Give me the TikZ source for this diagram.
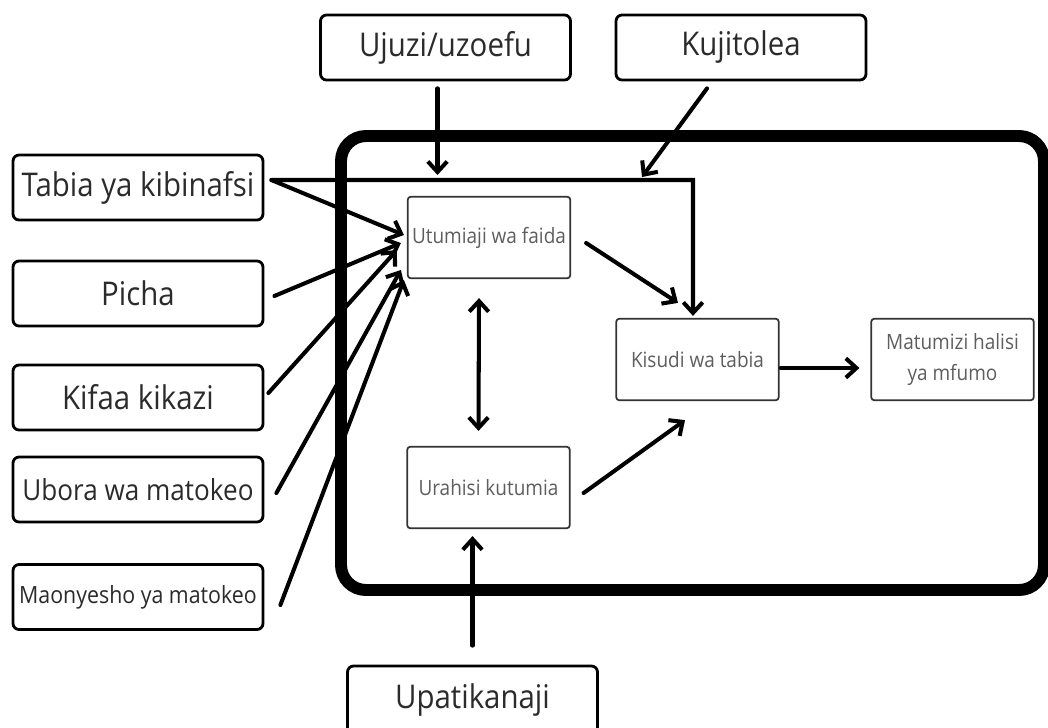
\documentclass[tikz,border=0pt]{standalone}
\usepackage{fontspec}
\setmainfont{Open Sans}[FakeStretch=0.9]
\usetikzlibrary{arrows.meta}
\definecolor{labeltext}{HTML}{2B2B2B}
\definecolor{innertext}{HTML}{5E5E5E}
\begin{document}
\begin{tikzpicture}[x=0.02cm, y=-0.02cm,
		>={Straight Barb[length=6pt, width=11pt, line width=2.3pt]},
		outerbox/.style={draw, line width=1.6pt, rounded corners=0.12cm, minimum width=5cm, minimum height=1.3cm, text=labeltext, font=\fontsize{18.6}{22}\selectfont, inner sep=0pt},
		innerbox/.style={draw=black!80, line width=1pt, rounded corners=0.06cm, minimum width=3.25cm, minimum height=1.63cm, text=innertext, font=\fontsize{12}{18}\selectfont, align=center, inner sep=0pt},
		arr/.style={line width=2.3pt, line cap=round, ->}]
		\clip (0,0) rectangle (1048,727);
		\fill[white] (0,0) rectangle (1048,727);

		% big frame
		\draw[line width=6.8pt, rounded corners=0.5cm] (341,136) rectangle (1044,590);

		% boxes on the left and on top
		\node[outerbox] (tabia) at (138,187.5) {Tabia ya kibinafsi};
		\node[outerbox] (picha) at (138,293.5) {Picha};
		\node[outerbox] (kifaa) at (138,397.5) {Kifaa kikazi};
		\node[outerbox, font=\fontsize{16.5}{20}\selectfont] (ubora) at (138,489.5) {Ubora wa matokeo};
		\node[outerbox, font=\fontsize{13.5}{16}\selectfont] (maonyesho) at (138,597) {Maonyesho ya matokeo};
		\node[outerbox] (ujuzi) at (445.5,47.5) {Ujuzi/uzoefu};
		\node[outerbox] (kujitolea) at (741,47.5) {Kujitolea};
		\node[outerbox, minimum height=1.36cm] (upatikanaji) at (472.5,700) {Upatikanaji};

		% boxes inside the frame
		\node[innerbox] (utumiaji) at (489,237.5) {Utumiaji wa faida};
		\node[innerbox] (urahisi) at (488.5,487.5) {Urahisi kutumia};
		\node[innerbox] (kisudi) at (697.5,359.5) {Kisudi wa tabia};
		\node[innerbox] (matumizi) at (952.5,359.5) {Matumizi halisi\\ya mfumo};

		\coordinate (tabout) at ([xshift=0.14cm, yshift=0.15cm]tabia.east);
		\coordinate (elbow) at (693,180);

		\draw[arr] (tabout) -- (elbow) -- ([yshift=0.04cm]elbow |- kisudi.north);
		\draw[arr] (tabout) -- ([xshift=-0.06cm, yshift=0.05cm]utumiaji.west);
		\draw[arr] ([xshift=0.2cm, yshift=-0.05cm]picha.east) -- ([xshift=-0.12cm, yshift=-0.11cm]utumiaji.west);
		\draw[arr] ([xshift=0.08cm, yshift=0.09cm]kifaa.east) -- ([xshift=-0.2cm, yshift=-0.25cm]utumiaji.west);
		\draw[arr] ([xshift=0.24cm, yshift=-0.07cm]ubora.east) -- ([xshift=-0.12cm, yshift=-0.65cm]utumiaji.west);
		\draw[arr] ([xshift=0.32cm, yshift=-0.16cm]maonyesho.east) -- ([xshift=-0.06cm, yshift=-0.85cm]utumiaji.west);

		\draw[arr] ([xshift=-0.16cm, yshift=-0.14cm]ujuzi.south) -- ([xshift=-0.16cm, yshift=0.1cm]ujuzi.south |- elbow);
		\draw[arr] ([xshift=-0.68cm, yshift=-0.14cm]kujitolea.south) -- ([xshift=-1.02cm, yshift=0.06cm]elbow);

		\draw[arr] ([xshift=0.3cm, yshift=-0.11cm]utumiaji.east) -- ([xshift=-0.39cm, yshift=0.3cm]kisudi.north);
		\draw[arr, <->] ([xshift=-0.2cm, yshift=-0.38cm]utumiaji.south) -- ([xshift=-0.2cm, yshift=0.3cm]urahisi.north);
		\draw[arr] ([xshift=0.26cm, yshift=-0.11cm]urahisi.east) -- ([xshift=-0.25cm, yshift=-0.38cm]kisudi.south);
		\draw[arr] ([xshift=0.02cm, yshift=-0.17cm]kisudi.east) -- ([xshift=-0.22cm, yshift=-0.17cm]matumizi.west);
		\draw[arr] ([yshift=0.38cm]upatikanaji.north) -- ([yshift=-0.14cm]upatikanaji.north |- urahisi.south);
	\end{tikzpicture}
\end{document}
